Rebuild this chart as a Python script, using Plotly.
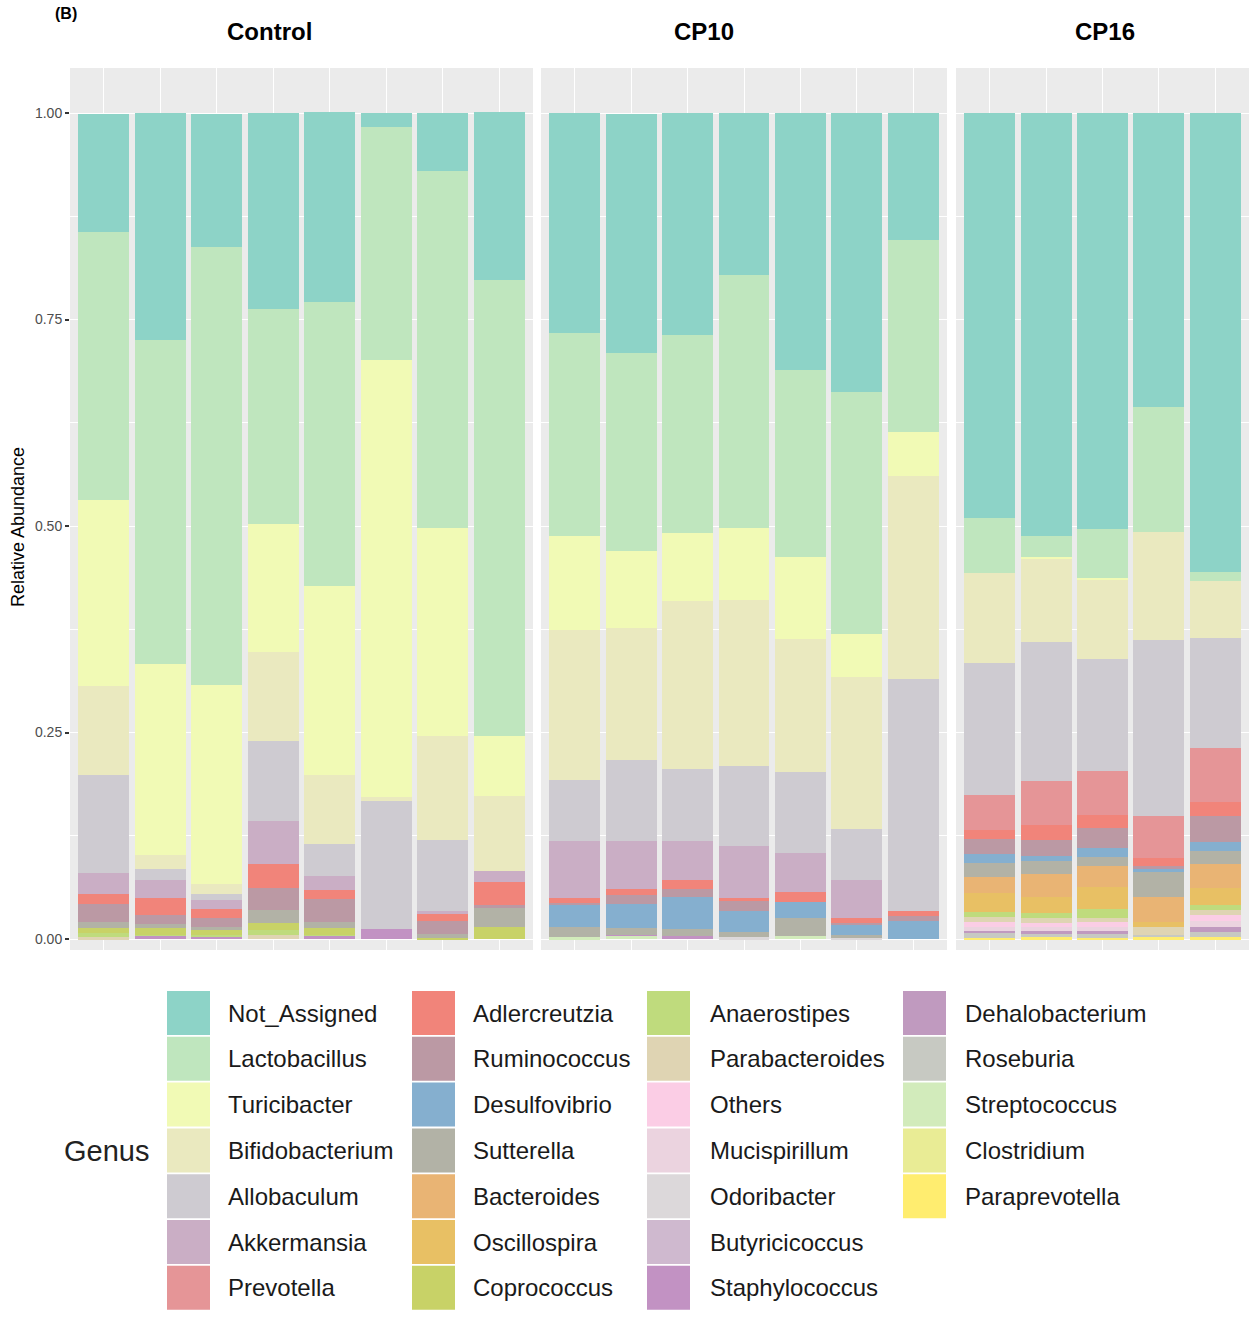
import plotly.graph_objects as go

# ---------------- data ----------------
groups = ["Control", "CP10", "CP16"]
group_sizes = [8, 7, 5]
samples = [f"C{i}" for i in range(1, 9)] + [f"P{i}" for i in range(1, 8)] + [f"Q{i}" for i in range(1, 6)]

genera = ["Not_Assigned", "Lactobacillus", "Turicibacter", "Bifidobacterium", "Allobaculum",
          "Akkermansia", "Prevotella", "Adlercreutzia", "Ruminococcus", "Desulfovibrio",
          "Sutterella", "Bacteroides", "Oscillospira", "Coprococcus", "Anaerostipes",
          "Parabacteroides", "Others", "Mucispirillum", "Odoribacter", "Butyricicoccus",
          "Staphylococcus", "Dehalobacterium", "Roseburia", "Streptococcus", "Clostridium",
          "Paraprevotella"]

#                 Control (8)                                              CP10 (7)                                           CP16 (5)
Not_Assigned    = [0.143, 0.275, 0.161, 0.237, 0.230, 0.017, 0.070, 0.203, 0.266, 0.289, 0.269, 0.196, 0.311, 0.338, 0.154, 0.490, 0.512, 0.504, 0.356, 0.556]
Lactobacillus   = [0.324, 0.392, 0.530, 0.260, 0.344, 0.282, 0.433, 0.552, 0.246, 0.240, 0.240, 0.306, 0.226, 0.293, 0.232, 0.067, 0.025, 0.059, 0.151, 0.011]
Turicibacter    = [0.226, 0.231, 0.241, 0.155, 0.228, 0.529, 0.251, 0.073, 0.114, 0.094, 0.082, 0.088, 0.100, 0.052, 0.054, 0.000, 0.002, 0.002, 0.000, 0.000]
Bifidobacterium = [0.107, 0.017, 0.013, 0.108, 0.084, 0.005, 0.126, 0.091, 0.182, 0.159, 0.203, 0.200, 0.161, 0.184, 0.245, 0.109, 0.102, 0.096, 0.131, 0.068]
Allobaculum     = [0.119, 0.013, 0.007, 0.097, 0.039, 0.155, 0.086, 0.000, 0.073, 0.098, 0.087, 0.097, 0.098, 0.062, 0.281, 0.160, 0.168, 0.136, 0.213, 0.134]
Akkermansia     = [0.025, 0.022, 0.011, 0.052, 0.017, 0.000, 0.004, 0.013, 0.069, 0.058, 0.048, 0.063, 0.047, 0.045, 0.000, 0.000, 0.000, 0.000, 0.000, 0.000]
Prevotella      = [0.000, 0.000, 0.000, 0.000, 0.000, 0.000, 0.000, 0.000, 0.000, 0.000, 0.000, 0.000, 0.000, 0.000, 0.000, 0.042, 0.053, 0.053, 0.051, 0.065]
Adlercreutzia   = [0.012, 0.021, 0.011, 0.029, 0.011, 0.000, 0.008, 0.028, 0.006, 0.008, 0.010, 0.004, 0.012, 0.007, 0.006, 0.011, 0.018, 0.015, 0.010, 0.017]
Ruminococcus    = [0.022, 0.011, 0.011, 0.027, 0.027, 0.000, 0.016, 0.003, 0.002, 0.010, 0.010, 0.012, 0.000, 0.002, 0.006, 0.018, 0.019, 0.025, 0.003, 0.031]
Desulfovibrio   = [0.000, 0.000, 0.000, 0.000, 0.000, 0.000, 0.000, 0.000, 0.027, 0.030, 0.039, 0.025, 0.019, 0.012, 0.022, 0.011, 0.007, 0.011, 0.004, 0.011]
Sutterella      = [0.008, 0.005, 0.002, 0.016, 0.008, 0.000, 0.005, 0.023, 0.013, 0.008, 0.008, 0.007, 0.022, 0.004, 0.000, 0.017, 0.015, 0.011, 0.030, 0.016]
Bacteroides     = [0.000, 0.000, 0.000, 0.000, 0.000, 0.000, 0.000, 0.000, 0.000, 0.000, 0.000, 0.000, 0.000, 0.000, 0.000, 0.019, 0.028, 0.025, 0.030, 0.029]
Oscillospira    = [0.000, 0.000, 0.000, 0.000, 0.000, 0.000, 0.000, 0.000, 0.000, 0.000, 0.000, 0.000, 0.000, 0.000, 0.000, 0.023, 0.019, 0.027, 0.006, 0.021]
Coprococcus     = [0.006, 0.008, 0.007, 0.008, 0.008, 0.000, 0.001, 0.015, 0.000, 0.000, 0.000, 0.000, 0.000, 0.000, 0.000, 0.000, 0.000, 0.000, 0.000, 0.000]
Anaerostipes    = [0.005, 0.001, 0.002, 0.006, 0.001, 0.000, 0.000, 0.000, 0.000, 0.000, 0.000, 0.000, 0.000, 0.000, 0.000, 0.006, 0.007, 0.010, 0.000, 0.006]
Parabacteroides = [0.002, 0.000, 0.000, 0.005, 0.000, 0.000, 0.000, 0.000, 0.000, 0.000, 0.000, 0.000, 0.000, 0.000, 0.000, 0.006, 0.006, 0.005, 0.010, 0.006]
Others          = [0.000, 0.000, 0.000, 0.000, 0.000, 0.000, 0.000, 0.000, 0.000, 0.000, 0.000, 0.000, 0.000, 0.000, 0.000, 0.006, 0.005, 0.006, 0.000, 0.007]
Mucispirillum   = [0.000, 0.000, 0.000, 0.000, 0.000, 0.000, 0.000, 0.000, 0.000, 0.000, 0.000, 0.000, 0.000, 0.000, 0.000, 0.005, 0.004, 0.005, 0.000, 0.007]
Odoribacter     = [0.000, 0.000, 0.000, 0.000, 0.000, 0.000, 0.000, 0.000, 0.000, 0.000, 0.000, 0.002, 0.000, 0.001, 0.000, 0.000, 0.000, 0.000, 0.000, 0.000]
Butyricicoccus  = [0.000, 0.000, 0.000, 0.000, 0.000, 0.000, 0.000, 0.000, 0.000, 0.000, 0.000, 0.000, 0.000, 0.000, 0.000, 0.000, 0.000, 0.000, 0.000, 0.000]
Staphylococcus  = [0.000, 0.004, 0.003, 0.000, 0.004, 0.012, 0.000, 0.000, 0.000, 0.001, 0.004, 0.000, 0.000, 0.000, 0.000, 0.000, 0.000, 0.000, 0.000, 0.000]
Dehalobacterium = [0.000, 0.000, 0.000, 0.000, 0.000, 0.000, 0.000, 0.000, 0.000, 0.000, 0.000, 0.000, 0.000, 0.000, 0.000, 0.003, 0.004, 0.004, 0.000, 0.006]
Roseburia       = [0.000, 0.000, 0.000, 0.000, 0.000, 0.000, 0.000, 0.000, 0.000, 0.000, 0.000, 0.000, 0.000, 0.000, 0.000, 0.006, 0.004, 0.005, 0.003, 0.007]
Streptococcus   = [0.000, 0.000, 0.000, 0.000, 0.000, 0.000, 0.000, 0.000, 0.002, 0.004, 0.000, 0.000, 0.004, 0.000, 0.000, 0.000, 0.000, 0.000, 0.000, 0.000]
Clostridium     = [0.000, 0.000, 0.000, 0.000, 0.000, 0.000, 0.000, 0.000, 0.000, 0.000, 0.000, 0.000, 0.000, 0.000, 0.000, 0.000, 0.000, 0.000, 0.000, 0.000]
Paraprevotella  = [0.000, 0.000, 0.000, 0.000, 0.000, 0.000, 0.000, 0.000, 0.000, 0.000, 0.000, 0.000, 0.000, 0.000, 0.000, 0.001, 0.002, 0.001, 0.002, 0.002]

values = {
    "Not_Assigned": Not_Assigned, "Lactobacillus": Lactobacillus, "Turicibacter": Turicibacter,
    "Bifidobacterium": Bifidobacterium, "Allobaculum": Allobaculum, "Akkermansia": Akkermansia,
    "Prevotella": Prevotella, "Adlercreutzia": Adlercreutzia, "Ruminococcus": Ruminococcus,
    "Desulfovibrio": Desulfovibrio, "Sutterella": Sutterella, "Bacteroides": Bacteroides,
    "Oscillospira": Oscillospira, "Coprococcus": Coprococcus, "Anaerostipes": Anaerostipes,
    "Parabacteroides": Parabacteroides, "Others": Others, "Mucispirillum": Mucispirillum,
    "Odoribacter": Odoribacter, "Butyricicoccus": Butyricicoccus, "Staphylococcus": Staphylococcus,
    "Dehalobacterium": Dehalobacterium, "Roseburia": Roseburia, "Streptococcus": Streptococcus,
    "Clostridium": Clostridium, "Paraprevotella": Paraprevotella,
}

y_ticks = [0.0, 0.25, 0.5, 0.75, 1.0]
y_ticktext = ["0.00", "0.25", "0.50", "0.75", "1.00"]

# ---------------- style ----------------
set3 = ["#8DD3C7", "#FFFFB3", "#BEBADA", "#FB8072", "#80B1D3", "#FDB462",
        "#B3DE69", "#FCCDE5", "#D9D9D9", "#BC80BD", "#CCEBC5", "#FFED6F"]


def ramp(base, n):
    rgb = [tuple(int(h[i:i + 2], 16) for i in (1, 3, 5)) for h in base]
    out = []
    for k in range(n):
        t = k * (len(rgb) - 1) / (n - 1)
        i = min(int(t), len(rgb) - 2)
        f = t - i
        c = [round(rgb[i][j] + f * (rgb[i + 1][j] - rgb[i][j])) for j in range(3)]
        out.append("#%02X%02X%02X" % tuple(c))
    return out


colors = dict(zip(genera, ramp(set3, len(genera))))

W, H = 1260, 1318
def px(x):
    return x / W
def py(y):
    return 1 - y / H

panel_x = [(70, 533), (541, 947), (956, 1249)]
panel_y = (68, 950)
y_range = [-0.0133, 1.0545]
strip_cx = [269, 704, 1105]
FONT = "Liberation Sans, Arial"

fig = go.Figure()

start = 0
for g, (name, n) in enumerate(zip(groups, group_sizes)):
    xa = "x" if g == 0 else f"x{g + 1}"
    ya = "y" if g == 0 else f"y{g + 1}"
    xs = list(range(n))
    for gen in reversed(genera):
        fig.add_trace(go.Bar(
            x=xs, y=values[gen][start:start + n], width=0.9,
            marker=dict(color=colors[gen], line=dict(width=0)),
            name=gen, showlegend=False, xaxis=xa, yaxis=ya,
            hovertemplate=gen + ": %{y:.3f}<extra></extra>",
        ))
    key = "" if g == 0 else str(g + 1)
    fig.layout["xaxis" + key] = dict(
        domain=[px(panel_x[g][0]), px(panel_x[g][1])], anchor=ya,
        range=[-0.6, n - 0.4], tickvals=xs, showticklabels=False, ticks="",
        showgrid=True, gridcolor="white", gridwidth=1.4, zeroline=False, showline=False,
        fixedrange=True,
    )
    fig.layout["yaxis" + key] = dict(
        domain=[py(panel_y[1]), py(panel_y[0])], anchor=xa,
        range=y_range, tickvals=y_ticks, ticktext=y_ticktext,
        showticklabels=(g == 0), ticks="outside" if g == 0 else "",
        ticklen=4, tickwidth=1.5, tickcolor="#333333",
        tickfont=dict(family=FONT, size=14, color="#4D4D4D"),
        showgrid=True, gridcolor="white", gridwidth=1.4, zeroline=False, showline=False,
        minor=dict(tickvals=[0.125, 0.375, 0.625, 0.875], showgrid=True,
                   gridcolor="white", gridwidth=0.7),
        fixedrange=True,
    )
    fig.add_annotation(x=px(strip_cx[g]), y=py(32), xref="paper", yref="paper",
                       text=f"<b>{name}</b>", showarrow=False, xanchor="center", yanchor="middle",
                       font=dict(family=FONT, size=24, color="black"))
    start += n

# panel label and y title
fig.add_annotation(x=px(53), y=py(14), xref="paper", yref="paper", text="<b>(B)</b>",
                   showarrow=False, xanchor="left", yanchor="middle",
                   font=dict(family=FONT, size=16, color="black"))
fig.add_annotation(x=px(18), y=py(527), xref="paper", yref="paper", text="Relative Abundance",
                   showarrow=False, textangle=-90, xanchor="center", yanchor="middle",
                   font=dict(family=FONT, size=18, color="black"))

# ---------------- legend (drawn) ----------------
fig.add_annotation(x=px(62), y=py(1151), xref="paper", yref="paper", text="Genus",
                   showarrow=False, xanchor="left", yanchor="middle",
                   font=dict(family=FONT, size=29, color="#222222"))
key_x = [167, 412, 647, 903]
lab_x = [226, 471, 708, 963]
row_top0, row_pitch, key_w, key_h = 991, 45.8, 43, 44
shapes = []
for i, gen in enumerate(genera):
    c, r = divmod(i, 7)
    top = row_top0 + r * row_pitch
    shapes.append(dict(type="rect", xref="paper", yref="paper",
                       x0=px(key_x[c]), x1=px(key_x[c] + key_w),
                       y0=py(top + key_h), y1=py(top),
                       fillcolor=colors[gen], line=dict(width=0)))
    fig.add_annotation(x=px(lab_x[c]), y=py(top + key_h / 2), xref="paper", yref="paper",
                       text=gen, showarrow=False, xanchor="left", yanchor="middle",
                       font=dict(family=FONT, size=24, color="#1A1A1A"))
fig.update_layout(shapes=shapes)

fig.update_layout(
    width=W, height=H, barmode="stack", bargap=0,
    margin=dict(l=0, r=0, t=0, b=0),
    paper_bgcolor="white", plot_bgcolor="#EBEBEB",
    showlegend=False,
)

fig.write_html("out.html", config={"displayModeBar": False},
               post_script="document.body.style.margin='0';document.body.style.overflow='hidden';")
